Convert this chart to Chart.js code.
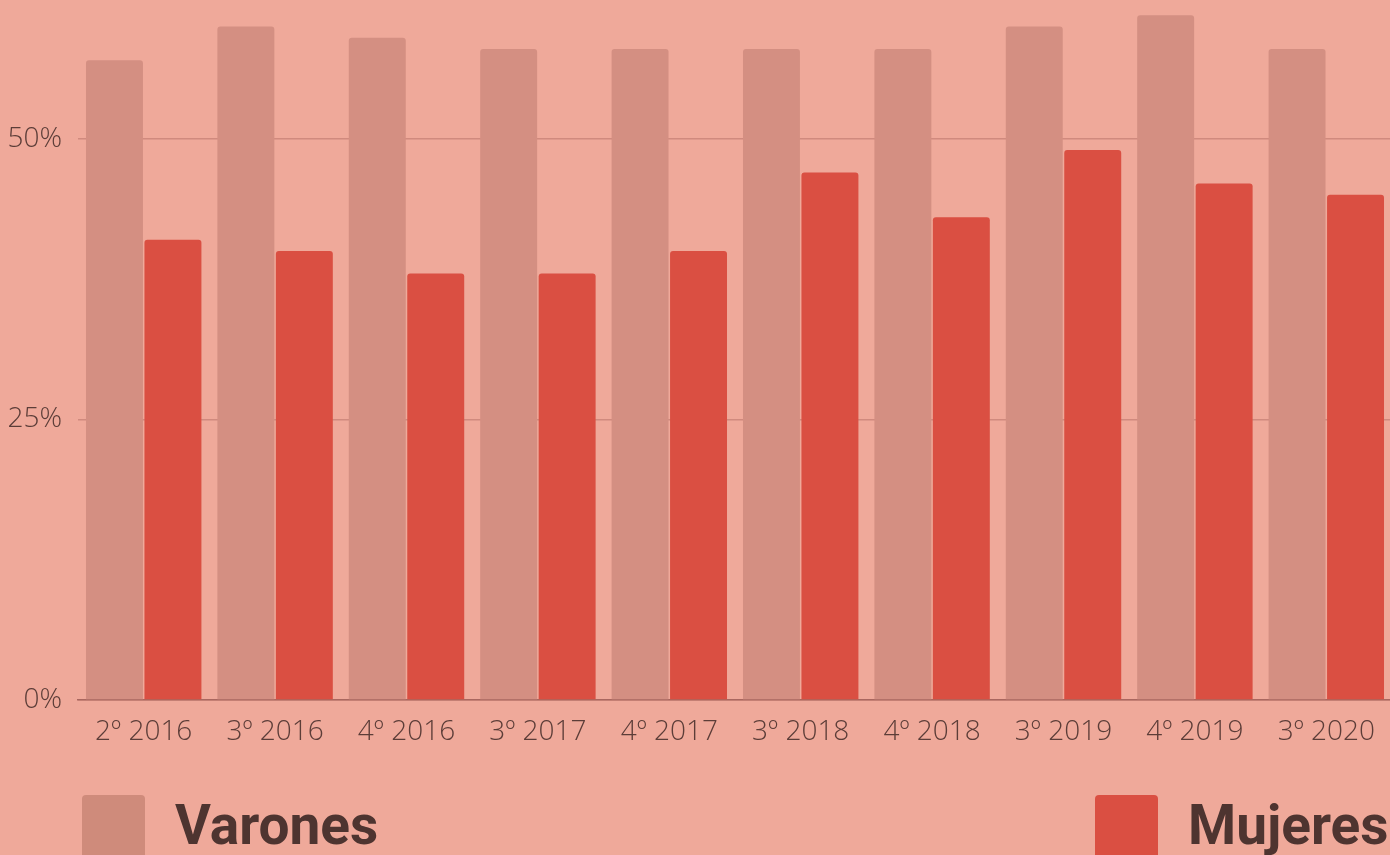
<!DOCTYPE html>
<html>
<head>
<meta charset="utf-8">
<script src="https://cdn.jsdelivr.net/npm/chart.js@4/dist/chart.umd.min.js"></script>
<style>
  html, body { margin: 0; padding: 0; background: #EFA99A; overflow: hidden; }
  #wrap { position: relative; width: 1390px; height: 855px; overflow: hidden; }
  #chartBox { position: absolute; left: 0; top: 0; width: 1392px; height: 760px; }
  .key { position: absolute; top: 795px; width: 63px; height: 70px; border-radius: 4px; }
  .keyText { position: absolute; top: 795px; font-family: Roboto, 'Noto Sans', sans-serif;
             font-weight: 700; font-size: 55px; line-height: 60px; color: #4E3430; }
</style>
</head>
<body>
<div id="wrap">
  <div id="chartBox"><canvas id="barChart"></canvas></div>
  <div class="key" style="left:82px; background:#CF8B7B;"></div>
  <div class="keyText" style="left:175px;">Varones</div>
  <div class="key" style="left:1095px; background:#DA4F42;"></div>
  <div class="keyText" style="left:1188px;">Mujeres</div>
</div>
<script>
// ============================================================
// Data
// ============================================================
const periods = ['2º 2016', '3º 2016', '4º 2016', '3º 2017', '4º 2017',
                 '3º 2018', '4º 2018', '3º 2019', '4º 2019', '3º 2020'];
const varones = [57, 60, 59, 58, 58, 58, 58, 60, 61, 58];
const mujeres = [41, 40, 38, 38, 40, 47, 43, 49, 46, 45];
const yTicks = [0, 25, 50];

const tickFont = { family: "'Open Sans', 'Noto Sans', sans-serif", size: 28, weight: 300 };

new Chart(document.getElementById('barChart'), {
  type: 'bar',
  data: {
    labels: periods,
    datasets: [
      {
        label: 'Varones',
        data: varones,
        backgroundColor: '#D48F82',
        borderRadius: { topLeft: 3, topRight: 3 },
        borderSkipped: false
      },
      {
        label: 'Mujeres',
        data: mujeres,
        backgroundColor: '#DA4F42',
        borderRadius: { topLeft: 3, topRight: 3 },
        borderSkipped: false
      }
    ]
  },
  options: {
    responsive: true,
    maintainAspectRatio: false,
    animation: false,
    datasets: {
      bar: { categoryPercentage: 0.89, barPercentage: 0.974 }
    },
    layout: { padding: { top: 4, left: 0, right: 0, bottom: 0 } },
    plugins: {
      legend: { display: false },
      tooltip: { enabled: false }
    },
    scales: {
      x: {
        grid: { display: false, drawTicks: false },
        border: { display: true, color: '#A9675F', width: 1.5 },
        ticks: { color: '#5C3D38', font: tickFont, padding: 15, maxRotation: 0 },
        afterFit: s => { s.height = 60; s.paddingLeft = 0; s.paddingRight = 0; }
      },
      y: {
        min: 0,
        max: 62,
        grid: { color: '#D08A7E', lineWidth: 1.5, drawTicks: false },
        border: { display: false },
        ticks: {
          color: '#5C3D38',
          font: tickFont,
          padding: 16,
          callback: v => v + '%'
        },
        afterBuildTicks: s => { s.ticks = yTicks.map(v => ({ value: v })); },
        afterFit: s => { s.width = 78; s.paddingTop = 0; s.paddingBottom = 0; }
      }
    }
  }
});
</script>
</body>
</html>
